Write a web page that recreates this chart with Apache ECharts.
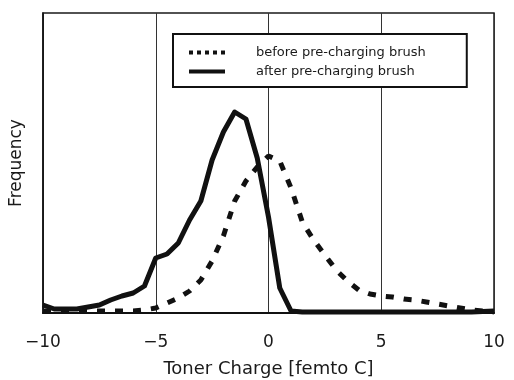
<!DOCTYPE html>
<html>
<head>
<meta charset="utf-8">
<script src="https://cdn.jsdelivr.net/npm/echarts@6/dist/echarts.min.js"></script>
<style>
html,body{margin:0;padding:0;background:#fff;}
#chart{width:514px;height:380px;}
</style>
</head>
<body>
<div id="chart"></div>
<script>
// Data
const xTicks = [-10, -5, 0, 5, 10];
const seriesNames = ['before pre-charging brush', 'after pre-charging brush'];
const beforeX = [-10,-9.5,-9,-8.5,-8,-7.5,-7,-6.5,-6,-5.5,-5,-4.5,-4,-3.5,-3,-2.5,-2,-1.5,-1,-0.5,0,0.5,1,1.5,2,2.5,3,3.5,4,4.5,5,5.5,6,6.5,7,7.5,8,8.5,9,9.5,10];
const beforeY = [2,2,2,2,2,2,2,2,2,3,5,10,15,22,33,52,77,112,132,146,157,152,125,91,73,58,43,32,23,19,17,16,14,13,11,9,7,5,3,2,1];
const afterX = [-10,-9.5,-9,-8.5,-8,-7.5,-7,-6.5,-6,-5.5,-5,-4.5,-4,-3.5,-3,-2.5,-2,-1.5,-1,-0.5,0,0.5,1,1.5,2,3,4,5,6,7,8,9,10];
const afterY = [8,4,4,4,6,8,13,17,20,27,55,59,70,93,112,153,181,201,194,155,96,25,2,1,1,1,1,1,1,1,1,1,2];

const FONT = '"DejaVu Sans", sans-serif';
const chart = echarts.init(document.getElementById('chart'), null, {renderer: 'canvas'});
const zip = (xs, ys) => xs.map((x, i) => [x, ys[i]]);
const hidden = {color: 'rgba(0,0,0,0)', opacity: 0, borderWidth: 0};

chart.setOption({
  animation: false,
  backgroundColor: '#fff',
  grid: {left: 43, right: 20, top: 13, bottom: 67, show: true, borderColor: '#1a1a1a', borderWidth: 1.5,
    backgroundColor: 'transparent', containLabel: false, outerBoundsMode: 'none'},
  xAxis: {
    type: 'value', min: -10, max: 10, interval: 5,
    axisLine: {show: true, onZero: false, lineStyle: {color: '#111', width: 2}},
    axisTick: {show: false},
    splitLine: {show: true, lineStyle: {color: '#333', width: 1}},
    axisLabel: {color: '#1a1a1a', fontSize: 17, fontFamily: FONT, margin: 21,
      formatter: v => String(v).replace('-', '\u2212')},
    name: 'Toner Charge [femto C]', nameLocation: 'middle', nameGap: 47,
    nameTextStyle: {color: '#1a1a1a', fontSize: 18, fontFamily: FONT}
  },
  yAxis: {
    type: 'value', min: 0, max: 300,
    axisLine: {show: true, onZero: false, lineStyle: {color: '#111', width: 1.5}},
    axisTick: {show: false}, axisLabel: {show: false}, splitLine: {show: false},
    name: 'Frequency', nameLocation: 'middle', nameGap: 18,
    nameTextStyle: {color: '#1a1a1a', fontSize: 17, fontFamily: FONT}
  },
  legend: {
    orient: 'vertical', left: 173, top: 34,
    backgroundColor: '#fff', borderColor: '#111', borderWidth: 2,
    padding: [12, 41, 9, 14], itemGap: 6, itemWidth: 36, itemHeight: 14,
    textStyle: {color: '#1a1a1a', fontSize: 13, fontFamily: FONT, padding: [0, 0, 0, 26]},
    data: [
      {name: seriesNames[0], itemStyle: hidden, lineStyle: {type: [4, 4], width: 4, color: '#111'}},
      {name: seriesNames[1], itemStyle: hidden, lineStyle: {width: 4, color: '#111'}}
    ]
  },
  series: [
    {name: seriesNames[0], type: 'line', data: zip(beforeX, beforeY), symbol: 'none', z: 2,
      lineStyle: {color: '#111', width: 5, type: [8, 10], cap: 'butt'}, itemStyle: {color: '#111'}},
    {name: seriesNames[1], type: 'line', data: zip(afterX, afterY), symbol: 'none', z: 3,
      lineStyle: {color: '#111', width: 5, join: 'round'}, itemStyle: {color: '#111'}}
  ]
});
</script>
</body>
</html>
